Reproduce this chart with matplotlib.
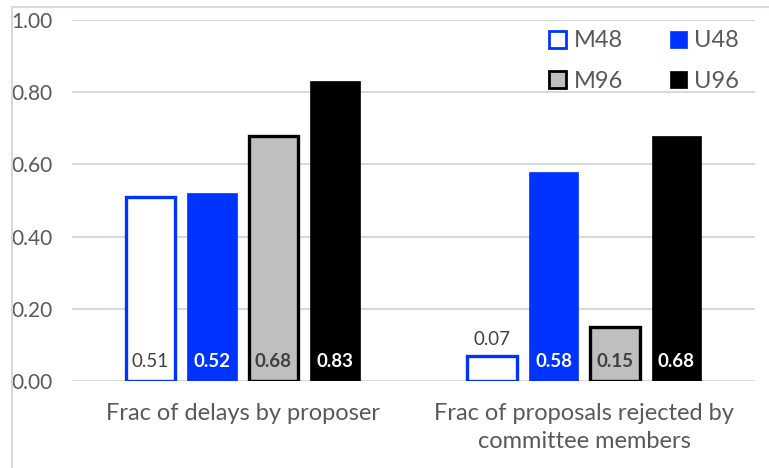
import matplotlib
matplotlib.use("Agg")
import matplotlib.pyplot as plt
from matplotlib.patches import Patch, Rectangle
import numpy as np

categories = ["Frac of delays by proposer", "Frac of proposals rejected by\ncommittee members"]
series = ["M48", "U48", "M96", "U96"]
values = {
    "M48": [0.51, 0.07],
    "U48": [0.52, 0.58],
    "M96": [0.68, 0.15],
    "U96": [0.83, 0.68],
}
yticks = [0.0, 0.2, 0.4, 0.6, 0.8, 1.0]

BLUE = "#0033FF"
styles = {
    "M48": dict(facecolor="white", edgecolor=BLUE, linewidth=2.4),
    "U48": dict(facecolor=BLUE, edgecolor=BLUE, linewidth=0.5),
    "M96": dict(facecolor="#BFBFBF", edgecolor="black", linewidth=2.4),
    "U96": dict(facecolor="black", edgecolor="black", linewidth=0.5),
}
label_style = {
    "M48": dict(color="#404040", fontweight="normal"),
    "U48": dict(color="white", fontweight="bold"),
    "M96": dict(color="#404040", fontweight="bold"),
    "U96": dict(color="white", fontweight="bold"),
}

FONT = "Lato"
TXT = "#595959"

fig = plt.figure(figsize=(7.69, 4.68), dpi=100)
ax = fig.add_axes([72/769, 1-381/468, (755-72)/769, (381-20)/468])

x = np.arange(len(categories))
step = 0.18
width = 0.146
offsets = (np.arange(len(series)) - 1.5) * step

for s, off in zip(series, offsets):
    ax.bar(x + off, values[s], width, zorder=3, **styles[s])
    for xi, v in zip(x + off, values[s]):
        if v < 0.1:
            ax.annotate(f"{v:.2f}", (xi, v), xytext=(0, 12), textcoords="offset points",
                        ha="center", va="center", fontsize=13.5, family=FONT,
                        color="#404040", zorder=4)
        else:
            ax.annotate(f"{v:.2f}", (xi, 0), xytext=(0, 14), textcoords="offset points",
                        ha="center", va="center", fontsize=13.5, family=FONT,
                        zorder=4, **label_style[s])

ax.set_xlim(-0.5, 1.5)
ax.set_ylim(0, 1.0)
ax.set_yticks(yticks)
ax.set_yticklabels([f"{t:.2f}" for t in yticks], family=FONT, fontsize=15, color=TXT)
ax.set_xticks(x)
ax.set_xticklabels(categories, family=FONT, fontsize=17, color=TXT, linespacing=1.4)
ax.tick_params(axis="both", length=0)
ax.tick_params(axis="y", pad=14)
ax.tick_params(axis="x", pad=16)
ax.grid(axis="y", color="#D9D9D9", linewidth=1.5, zorder=0)
for sp in ax.spines.values():
    sp.set_visible(False)

order = ["M48", "M96", "U48", "U96"]
handles = [Patch(label=s, **styles[s]) for s in order]
for h, s in zip(handles, order):
    if s in ("M48", "M96"):
        h.set_linewidth(2.0)
leg = ax.legend(handles=handles, ncol=2, loc="upper right", bbox_to_anchor=(1.008, 1.03),
                frameon=False, prop={"family": FONT, "size": 17},
                handlelength=0.72, handleheight=0.72, handletextpad=0.3,
                columnspacing=2.0, labelspacing=0.82)
for t in leg.get_texts():
    t.set_color(TXT)

fig.patches.append(Rectangle((12/769, -0.1), 1.2, 1.1 - 7/468, transform=fig.transFigure,
                             fill=False, edgecolor="#D9D9D9", linewidth=1.5))

fig.savefig("out.png", dpi=100)
